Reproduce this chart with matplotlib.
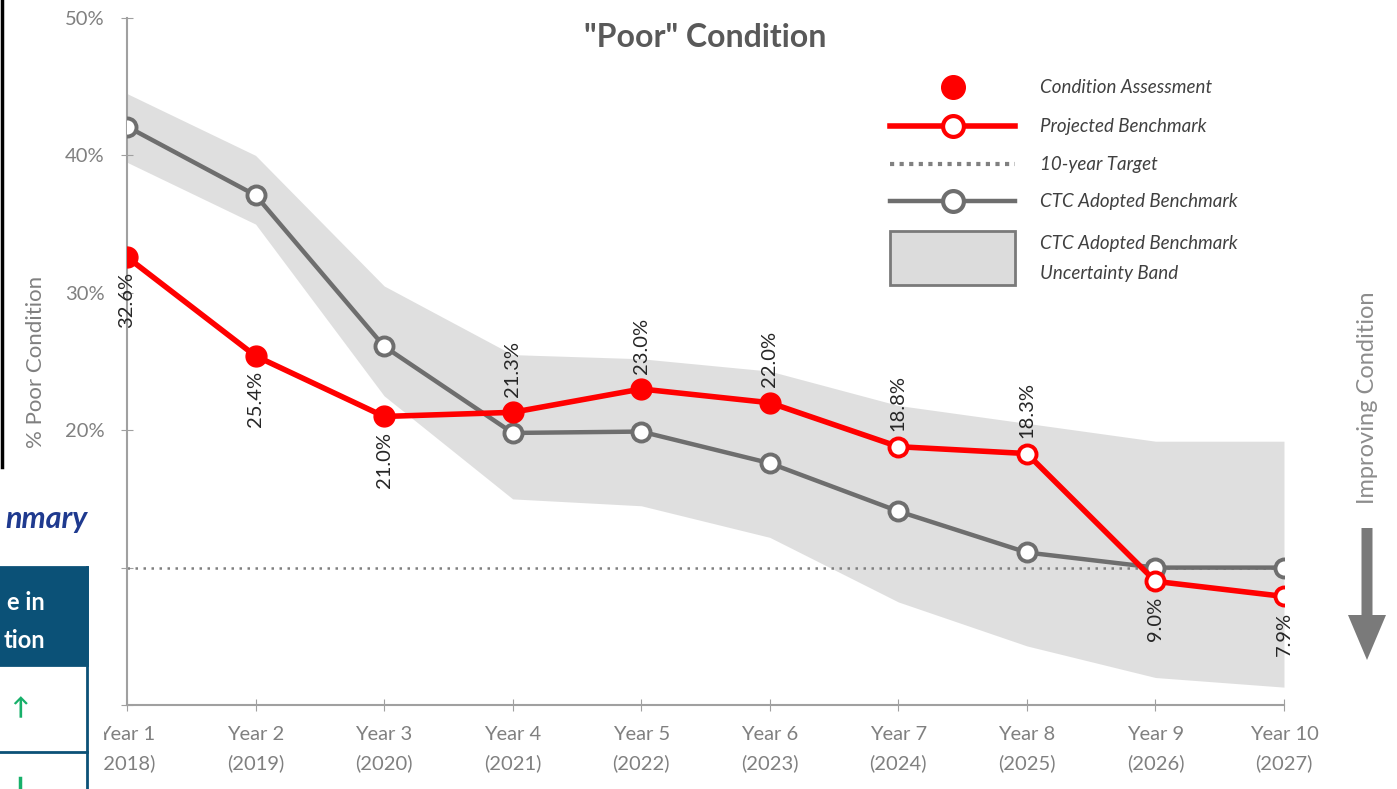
import matplotlib.pyplot as plt
from matplotlib.patches import Rectangle, FancyArrow

plt.rcParams['font.family'] = ['Lato', 'DejaVu Sans']

# data (percent)
years = [1, 2, 3, 4, 5, 6, 7, 8, 9, 10]
year_labels = ["Year 1\n(2018)", "Year 2\n(2019)", "Year 3\n(2020)", "Year 4\n(2021)", "Year 5\n(2022)",
               "Year 6\n(2023)", "Year 7\n(2024)", "Year 8\n(2025)", "Year 9\n(2026)", "Year 10\n(2027)"]
projected = [32.6, 25.4, 21.0, 21.3, 23.0, 22.0, 18.8, 18.3, 9.0, 7.9]
assessed_upto = 6  # first 6 points are condition assessments (filled)
ctc = [42.1, 37.1, 26.1, 19.8, 19.9, 17.6, 14.1, 11.1, 10.0, 10.0]
band_upper = [44.5, 40.0, 30.5, 25.5, 25.2, 24.3, 21.8, 20.5, 19.2, 19.2]
band_lower = [39.5, 35.0, 22.5, 15.0, 14.5, 12.2, 7.5, 4.3, 2.0, 1.3]
target = 10.0
label_below = [True, True, True, False, False, False, False, False, True, True]

W, H = 1397, 789
fig = plt.figure(figsize=(W / 100, H / 100), dpi=100)
ax = fig.add_axes([127 / W, 1 - 705 / H, (1284 - 127) / W, (705 - 18) / H])

red = '#ff0000'
grey = '#6e6e6e'
txt = '#808080'

ax.fill_between(years, band_lower, band_upper, color='#dcdcdc', lw=0, alpha=0.9, zorder=1)
ax.axhline(target, color='#808080', lw=1.8, linestyle=(0, (1.0, 2.2)), zorder=2)
ax.plot(years, ctc, color=grey, lw=3.2, marker='o', ms=13, mfc='white', mec=grey, mew=2.8, zorder=3)
ax.plot(years, projected, color=red, lw=4, zorder=4)
ax.plot(years[:assessed_upto], projected[:assessed_upto], 'o', color=red, ms=15, zorder=5)
ax.plot(years[assessed_upto:], projected[assessed_upto:], 'o', mfc='white', mec=red, mew=2.8, ms=13, zorder=5)

for x, v, below in zip(years, projected, label_below):
    ax.annotate(f"{v:.1f}%", (x, v), xytext=(0, -11 if below else 11), textcoords='offset points',
                rotation=90, ha='center', va='top' if below else 'bottom', fontsize=14.5, color='#262626',
                zorder=6)

ax.set_xlim(1, 10)
ax.set_ylim(0, 50)
ax.set_xticks(years)
ax.set_xticklabels(year_labels, linespacing=1.75)
ax.set_yticks([0, 10, 20, 30, 40, 50])
ax.set_yticklabels(['0%', '10%', '20%', '30%', '40%', '50%'])
ax.tick_params(axis='both', colors='#a0a0a0', labelcolor=txt, labelsize=14.5, direction='inout', length=8)
ax.tick_params(axis='x', pad=11)
ax.tick_params(axis='y', pad=12)
for s in ['top', 'right']:
    ax.spines[s].set_visible(False)
for s in ['left', 'bottom']:
    ax.spines[s].set_color('#a0a0a0')
    ax.spines[s].set_linewidth(1.5)
ax.set_ylabel('% Poor Condition', fontsize=16, color=txt, labelpad=14)
ax.set_title('"Poor" Condition', fontsize=23, fontweight='bold', color='#595959', y=0.945)

# overlay in pixel coordinates
ov = fig.add_axes([0, 0, 1, 1], zorder=10)
ov.set_xlim(0, W)
ov.set_ylim(H, 0)
ov.axis('off')
ov.patch.set_alpha(0)

# legend
lx0, lx1, lmid, tx = 890, 1015, 953, 1040
ov.plot([lmid], [87], 'o', color=red, ms=17)
ov.plot([lx0, lx1], [126, 126], color=red, lw=4)
ov.plot([lmid], [126], 'o', mfc='white', mec=red, mew=3, ms=15)
ov.plot([lx0, lx1], [164, 164], color='#808080', lw=3, linestyle=(0, (1.0, 1.3)))
ov.plot([lx0, lx1], [201, 201], color=grey, lw=3.2)
ov.plot([lmid], [201], 'o', mfc='white', mec=grey, mew=3, ms=15)
ov.add_patch(Rectangle((lx0, 231), lx1 - lx0, 54, facecolor='#dcdcdc', edgecolor='#7a7a7a', lw=2))
leg_texts = [(87, 'Condition Assessment'), (126, 'Projected Benchmark'), (164, '10-year Target'),
             (201, 'CTC Adopted Benchmark'), (243, 'CTC Adopted Benchmark'), (273, 'Uncertainty Band')]
for yy, t in leg_texts:
    ov.text(tx, yy, t, fontsize=13.5, style='italic', color='#404040', va='center', ha='left')

# improving condition arrow
ov.text(1368, 398, 'Improving Condition', rotation=90, fontsize=17, color='#8c8c8c', ha='center', va='center')
ov.add_artist(FancyArrow(1367, 528, 0, 132, width=11, head_width=38, head_length=45,
                         length_includes_head=True, color='#7a7a7a', lw=0))

# left-side overlay from the surrounding page (only the visible parts)
ov.add_patch(Rectangle((0, 470), 104, H - 470, facecolor='white', edgecolor='none'))
ov.plot([1.5, 1.5], [0, 467], color='black', lw=2.5)
ov.text(88, 519, 'nmary', fontsize=22, style='italic', fontweight='bold', color='#1f3a8f',
        ha='right', va='center')
ov.add_patch(Rectangle((-5, 567), 92, 98, facecolor='#0b5177', edgecolor='#0b5177', lw=2))
ov.text(45, 603, 'e in', fontsize=17, fontweight='bold', color='white', ha='right', va='center')
ov.text(45, 641, 'tion', fontsize=17, fontweight='bold', color='white', ha='right', va='center')
ov.plot([87, 87], [567, H], color='#0b5177', lw=2)
ov.plot([-5, 87], [752, 752], color='#0b5177', lw=2)
ov.text(20, 708, '\u2191', fontsize=17, color='#17b06a', ha='center', va='center', fontweight='bold')
ov.plot([20, 20], [778, H], color='#17b06a', lw=2.5)

fig.savefig('out.png', dpi=100)
